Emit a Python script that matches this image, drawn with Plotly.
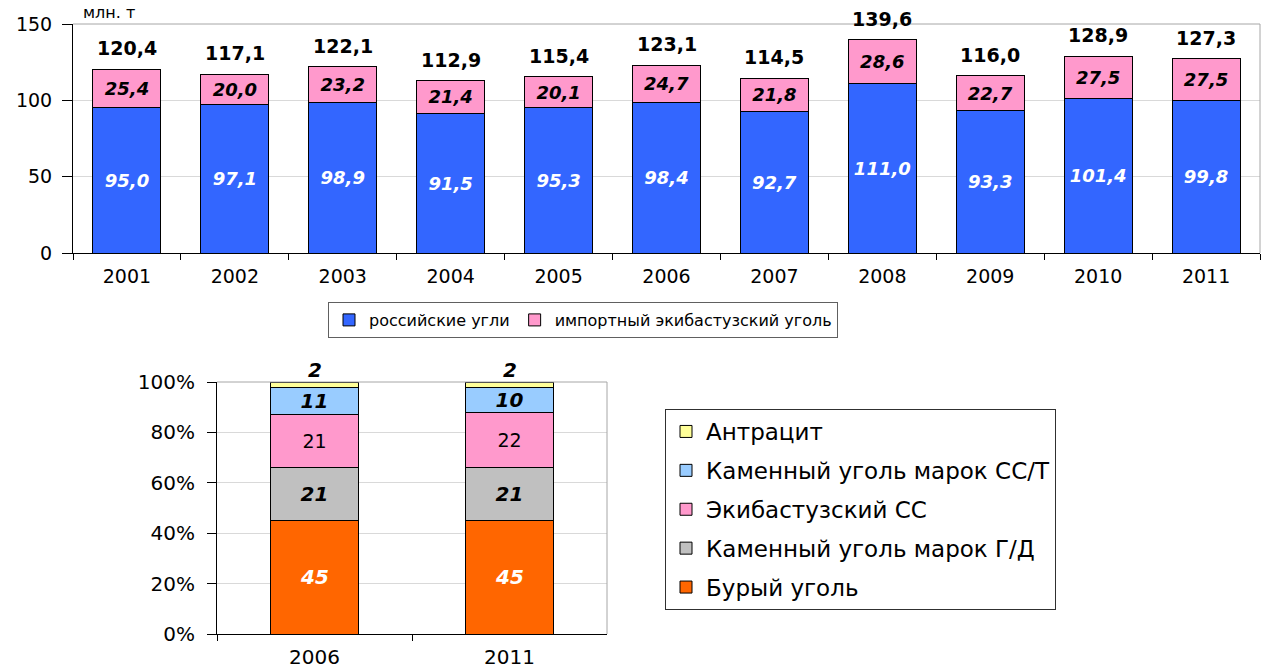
import plotly.graph_objects as go

# Annual coal consumption, mln t
years = ["2001", "2002", "2003", "2004", "2005", "2006", "2007", "2008", "2009", "2010", "2011"]
russian_coal = [95.0, 97.1, 98.9, 91.5, 95.3, 98.4, 92.7, 111.0, 93.3, 101.4, 99.8]
imported_ekib = [25.4, 20.0, 23.2, 21.4, 20.1, 24.7, 21.8, 28.6, 22.7, 27.5, 27.5]
totals = [120.4, 117.1, 122.1, 112.9, 115.4, 123.1, 114.5, 139.6, 116.0, 128.9, 127.3]

# Fuel structure, %
struct_years = ["2006", "2011"]
brown_coal = [45, 45]
hard_gd = [21, 21]
ekib_ss = [21, 22]
hard_sst = [11, 10]
anthracite = [2, 2]

FONT = "DejaVu Sans, Arial, sans-serif"
W, H = 1263, 671


def px_x(v):
    return v / W


def px_y(v):
    return (H - v) / H


def comma(vals, fmt="{:.1f}"):
    return [fmt.format(v).replace(".", ",") for v in vals]


fig = go.Figure()

bar_line = dict(color="#000000", width=1)

# ---- top chart: stacked bars ----
fig.add_trace(go.Bar(
    x=years, y=russian_coal, name="российские угли", width=0.63,
    marker=dict(color="#3366FF", line=bar_line),
    text=comma(russian_coal), textposition="inside", insidetextanchor="middle", textangle=0,
    constraintext="none",
    textfont=dict(family=FONT, size=18, color="white", weight="bold", style="italic"),
    xaxis="x", yaxis="y", legend="legend", hoverinfo="skip",
))
fig.add_trace(go.Bar(
    x=years, y=imported_ekib, name="импортный экибастузский уголь", width=0.63,
    marker=dict(color="#FF99CC", line=bar_line),
    text=comma(imported_ekib), textposition="inside", insidetextanchor="middle", textangle=0,
    constraintext="none",
    textfont=dict(family=FONT, size=18, color="black", weight="bold", style="italic"),
    xaxis="x", yaxis="y", legend="legend", hoverinfo="skip",
))

# ---- bottom chart: structure ----
struct_series = [
    ("Бурый уголь", brown_coal, "#FF6600",
     dict(size=20, color="white", weight="bold", style="italic")),
    ("Каменный уголь марок Г/Д", hard_gd, "#C0C0C0",
     dict(size=20, color="black", weight="bold", style="italic")),
    ("Экибастузский СС", ekib_ss, "#FF99CC",
     dict(size=19, color="black", weight="normal", style="normal")),
    ("Каменный уголь марок СС/Т", hard_sst, "#99CCFF",
     dict(size=20, color="black", weight="bold", style="italic")),
    ("Антрацит", anthracite, "#FFFF99", None),
]
n_struct = len(struct_series)
for i, (name, vals, color, tf) in enumerate(struct_series):
    if tf is not None:
        kw = dict(text=[str(v) for v in vals], textposition="inside",
                  insidetextanchor="middle", textangle=0, constraintext="none",
                  textfont=dict(family=FONT, **tf))
    else:
        kw = dict(textposition="none")
    fig.add_trace(go.Bar(
        x=struct_years, y=vals, name=name, width=0.45,
        marker=dict(color=color, line=bar_line),
        xaxis="x2", yaxis="y2", legend="legend2", legendgroup=name,
        legendrank=n_struct - i, hoverinfo="skip", **kw,
    ))

stack_tops = [a + b + c + d + e for a, b, c, d, e in zip(brown_coal, hard_gd, ekib_ss, hard_sst, anthracite)]

annotations = [dict(
    text="млн. т", x=px_x(81), y=px_y(13), xref="paper", yref="paper",
    xanchor="left", yanchor="middle", showarrow=False,
    font=dict(family=FONT, size=16, color="black"),
)]
# totals above the top-chart bars (category index on the x axis)
for idx, tot in enumerate(totals):
    annotations.append(dict(
        x=idx, y=tot, xref="x", yref="y", text=comma([tot])[0],
        xanchor="center", yanchor="bottom", yshift=8, showarrow=False,
        font=dict(family=FONT, size=19, color="black", weight="bold"),
    ))
# anthracite shares above the structure bars
for idx, (top, val) in enumerate(zip(stack_tops, anthracite)):
    annotations.append(dict(
        x=idx, y=top, xref="x2", yref="y2", text=str(val),
        xanchor="center", yanchor="bottom", yshift=-2, showarrow=False,
        font=dict(family=FONT, size=20, color="black", weight="bold", style="italic"),
    ))

fig.update_layout(
    width=W, height=H, margin=dict(l=0, r=0, t=0, b=0, autoexpand=False),
    paper_bgcolor="white", plot_bgcolor="white",
    barmode="stack",
    font=dict(family=FONT, color="black"),
    xaxis=dict(
        domain=[px_x(73), px_x(1260)], anchor="y", type="category",
        range=[-0.5, len(years) - 0.5], automargin=False,
        showline=True, linecolor="black", linewidth=1,
        ticks="outside", ticklen=6, tickcolor="black", tickson="boundaries",
        ticklabelstandoff=6, tickangle=0,
        tickfont=dict(family=FONT, size=19, color="black"), showgrid=False, fixedrange=True,
    ),
    yaxis=dict(
        domain=[px_y(253), px_y(24)], anchor="x", range=[0, 150], dtick=50,
        automargin=False,
        showline=True, linecolor="black", linewidth=1,
        ticks="outside", ticklen=10, tickcolor="black", ticklabelstandoff=6,
        tickfont=dict(family=FONT, size=19, color="black"),
        showgrid=True, gridcolor="#D9D9D9", gridwidth=1, zeroline=False, fixedrange=True,
    ),
    xaxis2=dict(
        domain=[px_x(217), px_x(607)], anchor="y2", type="category",
        range=[-0.5, len(struct_years) - 0.5], automargin=False,
        showline=True, linecolor="black", linewidth=1,
        ticks="outside", ticklen=6, tickcolor="black", tickson="boundaries",
        ticklabelstandoff=5, tickangle=0,
        tickfont=dict(family=FONT, size=20, color="black"), showgrid=False, fixedrange=True,
    ),
    yaxis2=dict(
        domain=[px_y(634), px_y(382)], anchor="x2", range=[0, 100], dtick=20,
        automargin=False,
        ticksuffix="%", showline=True, linecolor="black", linewidth=1,
        ticks="outside", ticklen=9, tickcolor="black", ticklabelstandoff=8,
        tickfont=dict(family=FONT, size=20, color="black"),
        showgrid=True, gridcolor="#D9D9D9", gridwidth=1, zeroline=False, fixedrange=True,
    ),
    legend=dict(
        orientation="h", x=px_x(328), y=px_y(302), xanchor="left", yanchor="top",
        bordercolor="#606060", borderwidth=1, bgcolor="white",
        font=dict(family=FONT, size=16, color="black"),
        traceorder="normal",
    ),
    legend2=dict(
        orientation="v", x=px_x(665), y=px_y(409), xanchor="left", yanchor="top",
        bordercolor="#303030", borderwidth=1, bgcolor="white",
        font=dict(family=FONT, size=23, color="black"),
        traceorder="grouped", tracegroupgap=6,
    ),
    showlegend=True,
    annotations=annotations,
    shapes=[
        # top and right frame edges of both plot areas
        dict(type="line", xref="x domain", yref="y domain", x0=0, x1=1, y0=1, y1=1,
             line=dict(color="#A6A6A6", width=1)),
        dict(type="line", xref="x domain", yref="y domain", x0=1, x1=1, y0=0, y1=1,
             line=dict(color="#A6A6A6", width=1)),
        dict(type="line", xref="x2 domain", yref="y2 domain", x0=0, x1=1, y0=1, y1=1,
             line=dict(color="#A6A6A6", width=1)),
        dict(type="line", xref="x2 domain", yref="y2 domain", x0=1, x1=1, y0=0, y1=1,
             line=dict(color="#A6A6A6", width=1)),
    ],
)

fig.write_html("out.html")
